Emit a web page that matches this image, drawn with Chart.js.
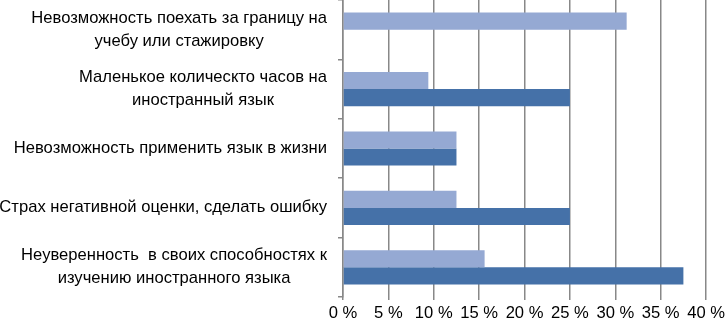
<!DOCTYPE html>
<html>
<head>
<meta charset="utf-8">
<script src="https://cdn.jsdelivr.net/npm/chart.js@4/dist/chart.umd.min.js"></script>
<style>
  html, body { margin: 0; padding: 0; background: #fff; }
  #wrap { width: 728px; height: 323px; position: relative; }
</style>
</head>
<body>
<div id="wrap"><canvas id="bar-chart"></canvas></div>
<script>
// categories, top to bottom as in the picture
const labels_reasons = [
  ["Невозможность поехать за границу на", "учебу или стажировку"],
  ["Маленькое колическто часов на", "иностранный язык"],
  "Невозможность применить язык в жизни",
  "Страх негативной оценки, сделать ошибку",
  ["Неуверенность  в своих способностях к", "изучению иностранного языка"],
];
const values_light = [31.25, 9.4, 12.5, 12.5, 15.6];
const values_dark = [0, 25, 12.5, 25, 37.5];
const ticks_x = [0, 5, 10, 15, 20, 25, 30, 35, 40];

const FONT = "'Liberation Sans', Arial, sans-serif";
const gridGray = "#888888";

// y labels: each block right aligned, lines centred inside the block
const yLabelPlugin = {
  id: "yLabels",
  afterDraw(chart) {
    const ctx = chart.ctx;
    const scale = chart.scales.y;
    ctx.save();
    ctx.font = "16.6px " + FONT;
    ctx.fillStyle = "#000";
    ctx.textAlign = "center";
    ctx.textBaseline = "middle";
    labels_reasons.forEach((lbl, i) => {
      const lines = Array.isArray(lbl) ? lbl : [lbl];
      const w = Math.max(...lines.map(l => ctx.measureText(l).width));
      const cx = scale.right - 16 - w / 2;
      const cy = scale.getPixelForTick(i);
      lines.forEach((l, j) => {
        ctx.fillText(l, cx, cy + (j - (lines.length - 1) / 2) * 23);
      });
    });
    ctx.restore();
  },
};

const data_bar = {
  labels: labels_reasons,
  datasets: [
    {
      label: "1",
      data: values_light,
      backgroundColor: "#95a9d3",
      categoryPercentage: 0.575,
      barPercentage: 1.0,
    },
    {
      label: "2",
      data: values_dark,
      backgroundColor: "#4571a8",
      categoryPercentage: 0.575,
      barPercentage: 1.0,
    },
  ],
};

const config_bar = {
  type: "bar",
  data: data_bar,
  options: {
    indexAxis: "y",
    responsive: true,
    maintainAspectRatio: false,
    animation: false,
    layout: { padding: { top: 0, right: 0, left: 0, bottom: 0 } },
    plugins: {
      legend: { display: false },
      tooltip: { enabled: false },
    },
    scales: {
      x: {
        min: 0,
        max: 40,
        afterBuildTicks: axis => { axis.ticks = ticks_x.map(v => ({ value: v })); },
        afterFit: axis => { axis.height = 26; },
        grid: { color: gridGray, lineWidth: 1.5, tickLength: 3 },
        border: { display: false },
        ticks: {
          color: "#000",
          padding: 3,
          maxRotation: 0,
          font: { family: FONT, size: 16.6 },
          callback: v => v + " %",
        },
      },
      y: {
        afterFit: axis => { axis.width = 343; },
        grid: { offset: true, drawOnChartArea: false, color: gridGray, lineWidth: 1.5, tickLength: 5 },
        border: { display: true, color: gridGray, width: 1.5 },
        ticks: { display: false },
      },
    },
  },
  plugins: [yLabelPlugin],
};

var ctx_bar = document.getElementById("bar-chart").getContext("2d");
var myChart_bar = new Chart(ctx_bar, config_bar);
</script>
</body>
</html>
